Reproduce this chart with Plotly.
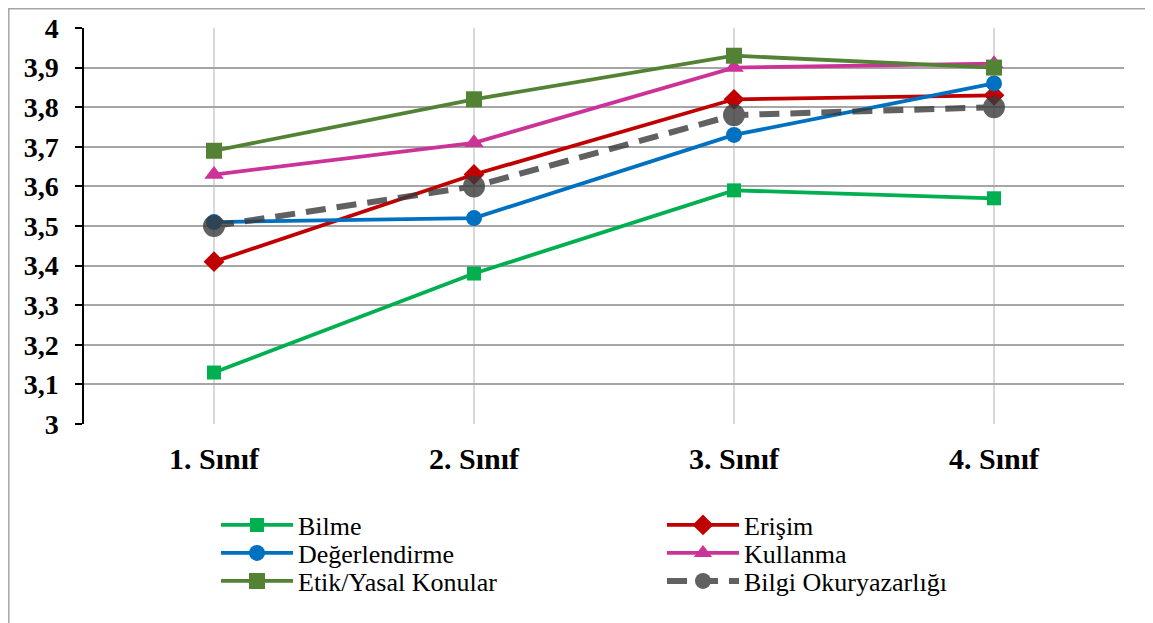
import plotly.graph_objects as go

categories = ["1. Sınıf", "2. Sınıf", "3. Sınıf", "4. Sınıf"]
bilme = [3.13, 3.38, 3.59, 3.57]
erisim = [3.41, 3.63, 3.82, 3.83]
degerlendirme = [3.51, 3.52, 3.73, 3.86]
kullanma = [3.63, 3.71, 3.90, 3.91]
etik = [3.69, 3.82, 3.93, 3.90]
bilgi = [3.50, 3.60, 3.78, 3.80]
y_tickvals = [3.0, 3.1, 3.2, 3.3, 3.4, 3.5, 3.6, 3.7, 3.8, 3.9, 4.0]
y_ticktext = ["3", "3,1", "3,2", "3,3", "3,4", "3,5", "3,6", "3,7", "3,8", "3,9", "4"]

SERIF = "'Times New Roman', 'Liberation Serif', 'DejaVu Serif', serif"

# page body has an 8px margin: figure coords = screen coords - 8
OFF = 8
W, H = 1153, 623
L, T = 84 - OFF, 28 - OFF
PW, PH = 1040, 396

fig = go.Figure()

def add(name, y, color, symbol, msize, legend, width=3.8, dash="solid", opacity=1.0):
    fig.add_trace(go.Scatter(
        x=categories, y=y, name=name, mode="lines+markers",
        line=dict(color=color, width=width, dash=dash),
        marker=dict(color=color, symbol=symbol, size=msize),
        opacity=opacity, legend=legend,
    ))

add("Bilme", bilme, "#00B050", "square", 14, "legend")
add("Erişim", erisim, "#C00000", "diamond", 16, "legend2")
add("Değerlendirme", degerlendirme, "#0070C0", "circle", 16, "legend3")
add("Kullanma", kullanma, "#CC3399", "triangle-up", 17, "legend4")
add("Etik/Yasal Konular", etik, "#548235", "square", 16, "legend5")
add("Bilgi Okuryazarlığı", bilgi, "#3A3A3A", "circle", 22, "legend6",
    width=6, dash="20px,11px", opacity=0.8)

# outer chart border (top/left visible)
fig.add_shape(type="rect", xref="paper", yref="paper",
              x0=(0.8 - L) / PW, x1=(W + 20 - L) / PW,
              y0=-(H + 20 - T - PH) / PH, y1=(T + PH - 0.8) / PH,
              line=dict(color="#A6A6A6", width=1.5), fillcolor="rgba(0,0,0,0)",
              layer="below")

def leg(sx, sy):
    return dict(
        orientation="v", xanchor="left", yanchor="middle",
        font=dict(family=SERIF, size=26, color="#000000"),
        bgcolor="rgba(0,0,0,0)", itemwidth=72,
        yref="container", xref="container",
        x=(sx - OFF) / W, y=1 - (sy - OFF) / H,
    )

rows = [525, 553, 581]
fig.update_layout(
    width=W, height=H,
    font=dict(family=SERIF, color="#000000"),
    margin=dict(l=L, r=W - L - PW, t=T, b=H - T - PH, autoexpand=False),
    paper_bgcolor="white", plot_bgcolor="white",
    showlegend=True,
    legend=leg(216, rows[0]),
    legend2=leg(662, rows[0]),
    legend3=leg(216, rows[1]),
    legend4=leg(662, rows[1]),
    legend5=leg(216, rows[2]),
    legend6=leg(662, rows[2]),
    xaxis=dict(
        range=[-0.5, 3.5],
        showgrid=True, gridcolor="#D9D9D9", gridwidth=1.5,
        showline=False, zeroline=False, ticks="",
        tickfont=dict(family=SERIF, size=30, color="#000000", weight="bold"),
        ticklabelstandoff=14, tickangle=0, automargin=False,
    ),
    yaxis=dict(
        range=[3, 4], tickvals=y_tickvals, ticktext=y_ticktext,
        showgrid=True, gridcolor="#A6A6A6", gridwidth=1.8,
        showline=True, linecolor="#000000", linewidth=1.5,
        ticks="outside", ticklen=7, tickcolor="#000000", tickwidth=1.5,
        zeroline=False, automargin=False,
        tickfont=dict(family=SERIF, size=28, color="#000000", weight="bold"),
        ticklabelstandoff=11,
    ),
)

fig.write_html("out.html")
